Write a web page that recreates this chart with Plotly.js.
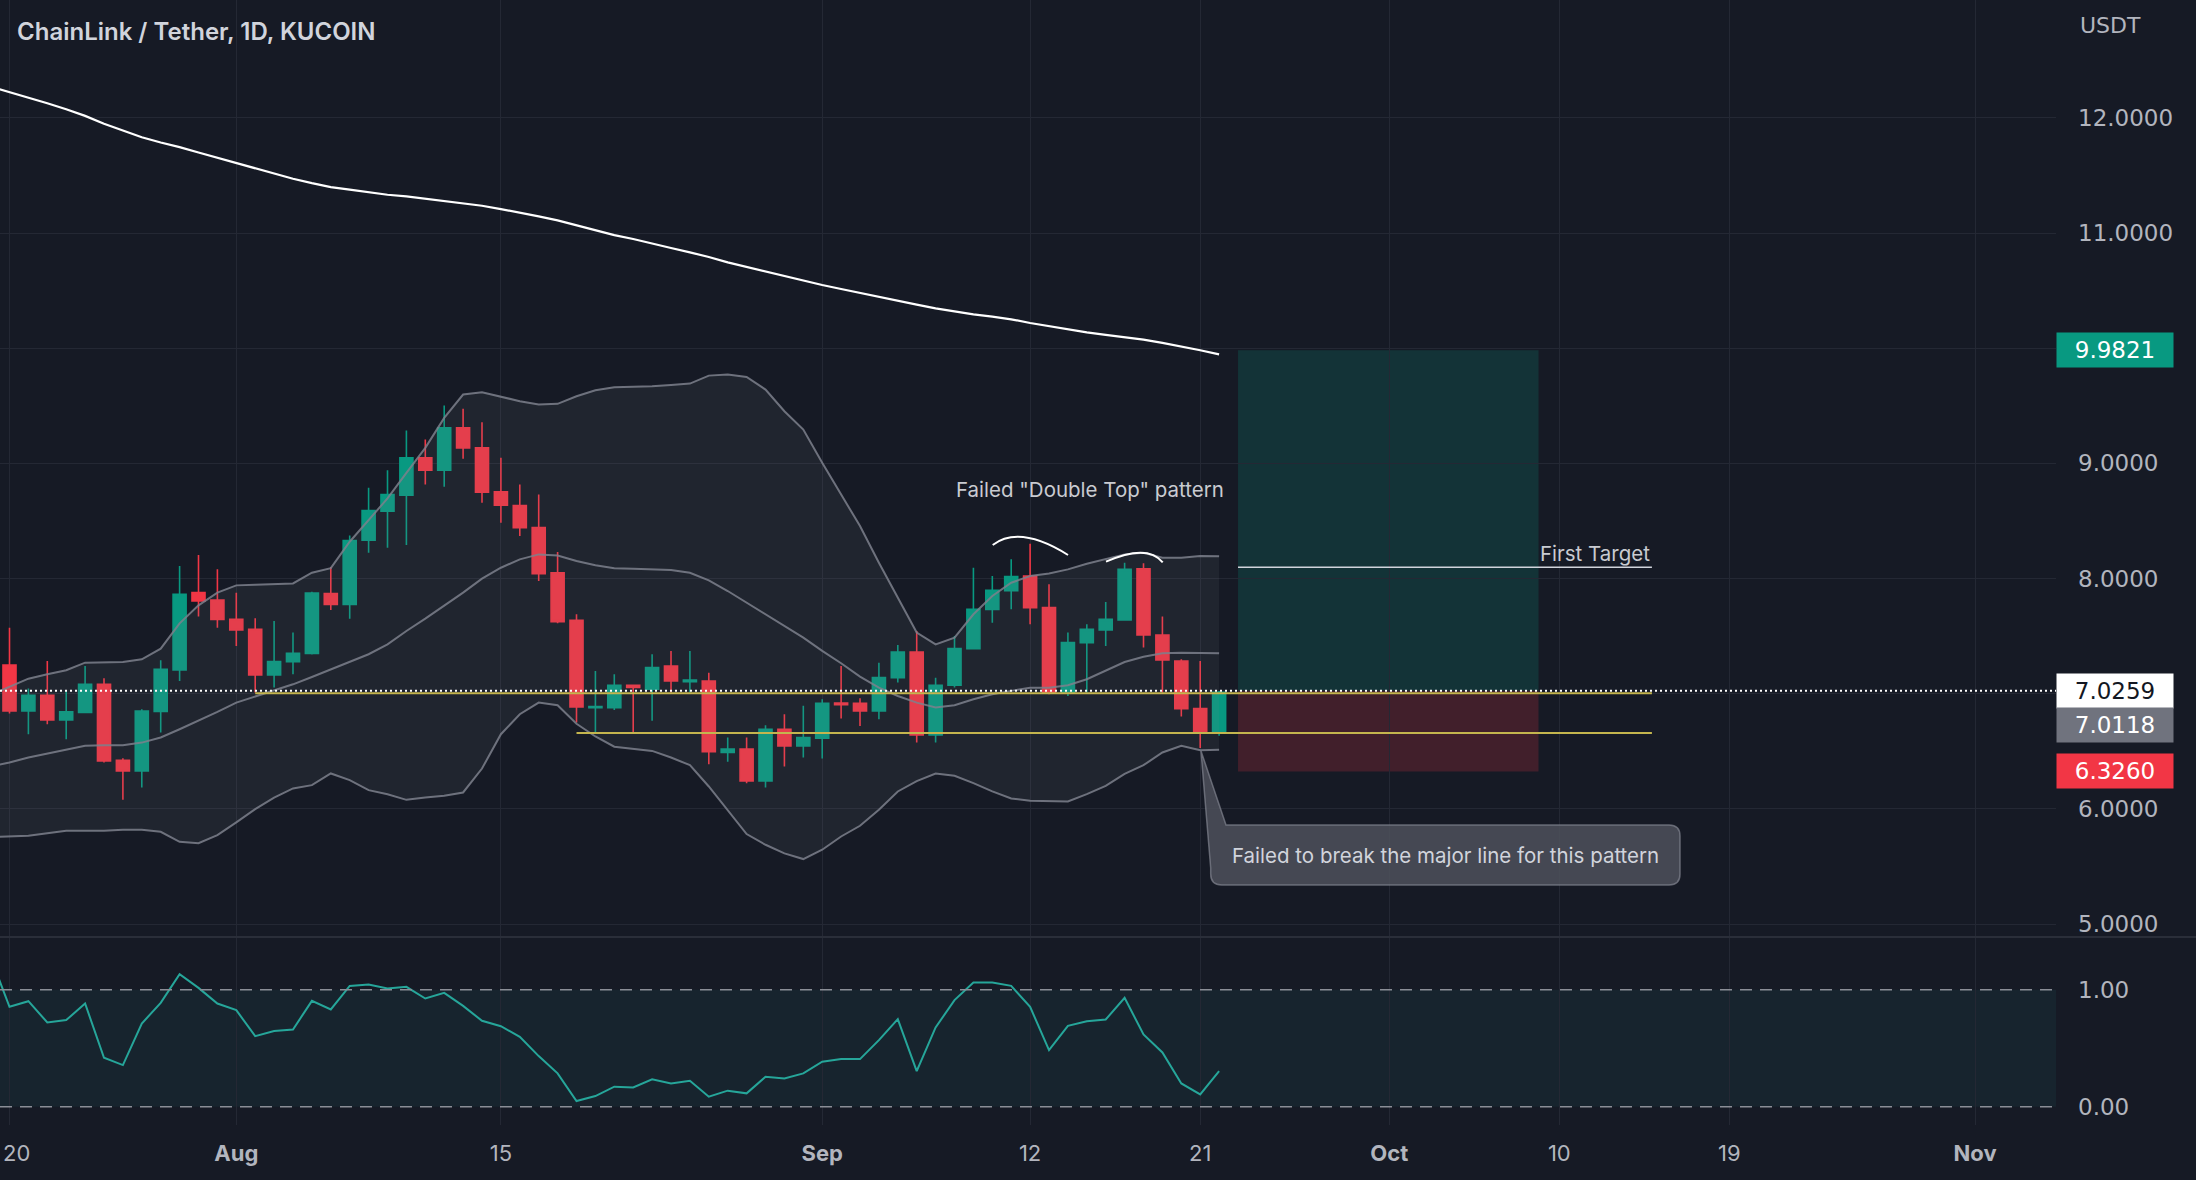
<!DOCTYPE html>
<html>
<head>
<meta charset="utf-8">
<script src="https://cdn.plot.ly/plotly-3.0.1.min.js"></script>
<style>
html,body{margin:0;padding:0;background:#161a25;}
#chart{width:2196px;height:1180px;}
</style>
</head>
<body>
<div id="chart"></div>
<script>
// ---------------- DATA ----------------
const dates = ['2022-07-20','2022-07-21','2022-07-22','2022-07-23','2022-07-24','2022-07-25','2022-07-26','2022-07-27','2022-07-28','2022-07-29','2022-07-30','2022-07-31',
'2022-08-01','2022-08-02','2022-08-03','2022-08-04','2022-08-05','2022-08-06','2022-08-07','2022-08-08','2022-08-09','2022-08-10','2022-08-11','2022-08-12','2022-08-13','2022-08-14','2022-08-15','2022-08-16','2022-08-17','2022-08-18','2022-08-19','2022-08-20','2022-08-21','2022-08-22','2022-08-23','2022-08-24','2022-08-25','2022-08-26','2022-08-27','2022-08-28','2022-08-29','2022-08-30','2022-08-31',
'2022-09-01','2022-09-02','2022-09-03','2022-09-04','2022-09-05','2022-09-06','2022-09-07','2022-09-08','2022-09-09','2022-09-10','2022-09-11','2022-09-12','2022-09-13','2022-09-14','2022-09-15','2022-09-16','2022-09-17','2022-09-18','2022-09-19','2022-09-20','2022-09-21','2022-09-22'];

const openP  = [7.250,6.851,6.987,6.773,6.837,7.082,6.423,6.330,6.846,7.207,7.878,7.814,7.646,7.559,7.163,7.279,7.351,7.870,7.776,8.334,8.586,8.724,9.048,8.941,9.309,9.135,8.754,8.635,8.444,8.051,7.638,6.880,6.880,7.074,7.039,7.241,7.105,7.111,6.490,6.519,6.244,6.692,6.548,6.614,6.920,6.918,6.851,7.140,7.363,6.643,7.074,7.392,7.733,7.895,8.022,7.748,7.010,7.444,7.554,7.640,8.085,7.510,7.285,6.871,6.663];
const highP  = [7.574,7.045,7.285,7.024,7.241,7.134,6.441,6.866,7.291,8.109,8.204,8.080,7.878,7.655,7.632,7.531,7.886,8.100,8.375,8.788,8.941,9.285,9.207,9.502,9.474,9.357,9.048,8.817,8.730,8.230,7.690,7.198,7.169,7.080,7.343,7.371,7.371,7.183,6.620,6.620,6.727,6.822,6.895,6.953,7.241,6.961,7.270,7.424,7.545,7.140,7.502,8.095,8.022,8.167,8.303,7.950,7.531,7.603,7.797,8.138,8.133,7.670,7.300,7.285,7.025];
const lowP   = [6.828,6.649,6.735,6.605,6.830,6.404,6.079,6.186,6.663,7.111,7.670,7.574,7.415,7.010,7.054,7.169,7.340,7.728,7.652,8.225,8.268,8.291,8.817,8.797,9.040,8.658,8.485,8.369,7.978,7.612,6.750,6.660,6.860,6.663,6.765,7.010,7.010,6.389,6.409,6.224,6.186,6.369,6.447,6.438,6.785,6.721,6.779,7.097,6.577,6.577,7.054,7.390,7.617,7.733,7.603,6.996,6.980,7.010,7.415,7.640,7.401,7.010,6.802,6.530,6.635];
const closeP = [6.851,6.987,6.773,6.843,7.082,6.417,6.330,6.851,7.212,7.863,7.806,7.646,7.554,7.163,7.279,7.351,7.875,7.776,8.331,8.591,8.730,9.048,8.941,9.309,9.135,8.750,8.637,8.441,8.042,7.626,6.886,6.890,7.074,7.054,7.227,7.111,7.120,6.496,6.519,6.244,6.692,6.548,6.620,6.918,6.906,6.851,7.140,7.363,6.643,7.074,7.392,7.733,7.898,8.017,7.748,7.010,7.444,7.559,7.646,8.080,7.510,7.293,6.871,6.663,7.0118];

// indicator / overlay lines start one day earlier (enter from the left edge)
const lineDates = ['2022-07-19'].concat(dates);
const bbUpper = [6.990,7.062,7.131,7.169,7.204,7.270,7.276,7.276,7.299,7.392,7.611,7.768,7.878,7.941,7.947,7.950,7.958,8.051,8.091,8.320,8.508,8.696,8.918,9.135,9.395,9.598,9.618,9.577,9.540,9.511,9.517,9.583,9.635,9.661,9.665,9.670,9.680,9.693,9.762,9.771,9.751,9.641,9.453,9.294,9.005,8.730,8.456,8.138,7.834,7.531,7.429,7.487,7.690,7.849,7.964,8.022,8.045,8.080,8.129,8.167,8.210,8.224,8.181,8.181,8.195,8.194];
const bbBasis = [6.370,6.403,6.446,6.481,6.513,6.548,6.553,6.553,6.576,6.620,6.692,6.764,6.843,6.923,6.976,7.025,7.082,7.146,7.212,7.276,7.343,7.429,7.545,7.652,7.762,7.878,7.999,8.094,8.167,8.210,8.201,8.152,8.115,8.089,8.086,8.080,8.074,8.051,7.984,7.892,7.791,7.690,7.588,7.487,7.372,7.265,7.149,7.053,6.981,6.923,6.880,6.900,6.952,6.996,7.025,7.053,7.053,7.074,7.126,7.198,7.276,7.322,7.351,7.357,7.357,7.351];
const bbLower = [5.755,5.761,5.767,5.790,5.810,5.810,5.810,5.819,5.819,5.802,5.715,5.703,5.773,5.883,5.998,6.099,6.178,6.207,6.308,6.250,6.163,6.128,6.079,6.099,6.114,6.143,6.351,6.649,6.822,6.923,6.900,6.740,6.629,6.540,6.519,6.504,6.447,6.380,6.195,5.990,5.782,5.689,5.614,5.565,5.646,5.761,5.854,5.993,6.152,6.241,6.308,6.288,6.224,6.152,6.091,6.071,6.065,6.065,6.129,6.201,6.305,6.380,6.490,6.548,6.510,6.513];
const ma200 = [12.270,12.222,12.179,12.127,12.075,12.017,11.948,11.887,11.832,11.786,11.746,11.699,11.653,11.607,11.558,11.514,11.471,11.433,11.399,11.376,11.352,11.332,11.318,11.297,11.280,11.260,11.237,11.208,11.179,11.144,11.110,11.066,11.026,10.982,10.948,10.907,10.870,10.832,10.792,10.745,10.705,10.664,10.624,10.589,10.549,10.514,10.479,10.445,10.413,10.378,10.346,10.317,10.294,10.274,10.251,10.219,10.190,10.161,10.138,10.115,10.098,10.075,10.046,10.017,9.982,9.947];
const pctB = [1.280,0.855,0.903,0.721,0.741,0.883,0.419,0.356,0.712,0.889,1.134,1.017,0.883,0.826,0.604,0.647,0.661,0.906,0.832,1.034,1.046,1.011,1.026,0.926,0.974,0.863,0.735,0.689,0.598,0.433,0.285,0.048,0.091,0.171,0.165,0.234,0.199,0.222,0.085,0.137,0.114,0.256,0.242,0.285,0.385,0.407,0.407,0.570,0.749,0.305,0.678,0.912,1.063,1.063,1.034,0.855,0.484,0.692,0.732,0.746,0.932,0.618,0.464,0.199,0.105,0.305];

const xTickVals = ['2022-07-20','2022-08-01','2022-08-15','2022-09-01','2022-09-12','2022-09-21','2022-10-01','2022-10-10','2022-10-19','2022-11-01'];
const xTickText = ['','<b>Aug</b>','15','<b>Sep</b>','12','21','<b>Oct</b>','10','19','<b>Nov</b>'];
const firstTickLabel = '20';   // drawn at the left edge so it stays fully visible
const priceTickVals = [5,6,7,8,9,10,11,12];
const priceTickText = ['5.0000','6.0000','','8.0000','9.0000','','11.0000','12.0000'];
const pctTickVals = [0,1];
const pctTickText = ['0.00','1.00'];

// trade setup (long position tool)
const entryPrice = 7.0259;
const targetPrice = 9.9821;
const stopPrice = 6.3260;
const lastClose = 7.0118;
const firstTarget = 8.098;
const supportUpper = 7.005;
const supportLower = 6.660;
const positionStart = '2022-09-23';
const positionEnd = '2022-10-08 21:36';
const linesEnd = '2022-10-14 21:36';
const supportUpperStart = '2022-08-02';
const supportLowerStart = '2022-08-19';

// ---------------- GEOMETRY HELPERS (pixel -> paper) ----------------
const PW = 2056, PH = 1125;
const px = x => (x / PW).toFixed(5);
const py = y => (1 - y / PH).toFixed(5);
const pt = (x, y) => px(x) + ',' + py(y);

const arc1 = 'M' + pt(992.7,545) + ' Q' + pt(1019.6,524.6) + ' ' + pt(1068,555);
const arc2 = 'M' + pt(1106,561.7) + ' Q' + pt(1147.2,543.4) + ' ' + pt(1162.7,562.3);
const bx0 = 1210.7, bx1 = 1680, by0 = 825, by1 = 885, r = 11;
const callout = 'M' + pt(1226,by0) + ' L' + pt(bx1 - r,by0) + ' Q' + pt(bx1,by0) + ' ' + pt(bx1,by0 + r) +
  ' L' + pt(bx1,by1 - r) + ' Q' + pt(bx1,by1) + ' ' + pt(bx1 - r,by1) +
  ' L' + pt(bx0 + r,by1) + ' Q' + pt(bx0,by1) + ' ' + pt(bx0,by1 - r) +
  ' L' + pt(bx0,868) + ' L' + pt(1201,751) + ' Z';

// ---------------- TRACES ----------------
const bandLine = {color: 'rgba(125,128,140,0.85)', width: 2};
const traces = [
  {type: 'scatter', mode: 'lines', x: lineDates, y: bbLower, line: bandLine, hoverinfo: 'skip', xaxis: 'x', yaxis: 'y'},
  {type: 'scatter', mode: 'lines', x: lineDates, y: bbUpper, line: bandLine, fill: 'tonexty', fillcolor: 'rgba(120,123,134,0.11)', hoverinfo: 'skip', xaxis: 'x', yaxis: 'y'},
  {type: 'scatter', mode: 'lines', x: lineDates, y: bbBasis, line: bandLine, hoverinfo: 'skip', xaxis: 'x', yaxis: 'y'},
  {type: 'scatter', mode: 'lines', x: lineDates, y: ma200, line: {color: '#ffffff', width: 2.2}, hoverinfo: 'skip', xaxis: 'x', yaxis: 'y'},
  {type: 'candlestick', x: dates, open: openP, high: highP, low: lowP, close: closeP,
    increasing: {line: {color: '#089981', width: 1.6}, fillcolor: '#089981'},
    decreasing: {line: {color: '#f23645', width: 1.6}, fillcolor: '#f23645'},
    whiskerwidth: 0, hoverinfo: 'skip', xaxis: 'x', yaxis: 'y'},
  {type: 'scatter', mode: 'lines', x: lineDates, y: pctB, line: {color: '#26a69a', width: 2}, hoverinfo: 'skip', xaxis: 'x', yaxis: 'y2'}
];

// ---------------- SHAPES ----------------
const shapes = [
  {type: 'rect', xref: 'paper', x0: 0, x1: 1, yref: 'y2', y0: 0, y1: 1, fillcolor: 'rgba(38,166,154,0.08)', line: {width: 0}, layer: 'below'},
  {type: 'line', xref: 'paper', x0: 0, x1: 1, yref: 'y2', y0: 1, y1: 1, line: {color: '#8a8d96', width: 1.5, dash: '12px,8px'}},
  {type: 'line', xref: 'paper', x0: 0, x1: 1, yref: 'y2', y0: 0, y1: 0, line: {color: '#8a8d96', width: 1.5, dash: '12px,8px'}},
  {type: 'rect', xref: 'x', x0: positionStart, x1: positionEnd, yref: 'y', y0: entryPrice, y1: targetPrice, fillcolor: 'rgba(8,153,129,0.2)', line: {width: 0}, layer: 'below'},
  {type: 'rect', xref: 'x', x0: positionStart, x1: positionEnd, yref: 'y', y0: stopPrice, y1: entryPrice, fillcolor: 'rgba(242,54,69,0.2)', line: {width: 0}, layer: 'below'},
  {type: 'line', xref: 'x', x0: positionStart, x1: linesEnd, yref: 'y', y0: firstTarget, y1: firstTarget, line: {color: '#d1d4dc', width: 1.6}},
  {type: 'line', xref: 'x', x0: supportUpperStart, x1: linesEnd, yref: 'y', y0: supportUpper, y1: supportUpper, line: {color: '#c4b54e', width: 2}},
  {type: 'line', xref: 'x', x0: supportLowerStart, x1: linesEnd, yref: 'y', y0: supportLower, y1: supportLower, line: {color: '#c4b54e', width: 2}},
  {type: 'line', xref: 'paper', x0: 0, x1: 1, yref: 'y', y0: entryPrice, y1: entryPrice, line: {color: '#ffffff', width: 2, dash: '2px,3px'}},
  {type: 'path', xref: 'paper', yref: 'paper', path: arc1, line: {color: '#ffffff', width: 2}},
  {type: 'path', xref: 'paper', yref: 'paper', path: arc2, line: {color: '#ffffff', width: 2}},
  {type: 'path', xref: 'paper', yref: 'paper', path: callout, fillcolor: 'rgba(78,81,92,0.85)', line: {color: 'rgba(130,133,144,0.7)', width: 1.5}},
  {type: 'line', xref: 'paper', x0: 0, x1: 2196 / PW, yref: 'paper', y0: 1 - 937 / PH, y1: 1 - 937 / PH, line: {color: '#2a2e39', width: 2}}
];

// ---------------- ANNOTATIONS ----------------
const axisFont = '"DejaVu Sans", Inter, sans-serif';
const priceLabel = (yv, txt, bg, fg) => ({xref: 'paper', x: 1, xanchor: 'left', yref: 'y', y: yv, yanchor: 'middle',
  text: txt, showarrow: false, bgcolor: bg, width: 116, height: 34, borderpad: 0, align: 'center',
  font: {family: axisFont, size: 23, color: fg}});

const annotations = [
  {xref: 'paper', x: 1090 / PW, yref: 'paper', y: 1 - 489 / PH, text: 'Failed "Double Top" pattern', showarrow: false,
    xanchor: 'center', yanchor: 'middle', font: {size: 20.5, color: '#c9cbd1'}},
  {xref: 'x', x: linesEnd, yref: 'y', y: firstTarget, text: 'First Target', showarrow: false, xanchor: 'right', yanchor: 'bottom', yshift: -1,
    font: {size: 20.5, color: '#c9cbd1'}},
  {xref: 'paper', x: 1445 / PW, yref: 'paper', y: 1 - 855 / PH, text: 'Failed to break the major line for this pattern', showarrow: false,
    xanchor: 'center', yanchor: 'middle', font: {size: 20.5, color: '#d1d4dc'}},
  priceLabel(targetPrice, targetPrice.toFixed(4), '#089981', '#ffffff'),
  priceLabel(entryPrice, entryPrice.toFixed(4), '#ffffff', '#131722'),
  priceLabel(6.727, lastClose.toFixed(4), '#70737e', '#ffffff'),
  priceLabel(stopPrice, stopPrice.toFixed(4), '#f23645', '#ffffff'),
  {xref: 'paper', x: 2078 / PW, xanchor: 'left', yref: 'paper', y: 1 - 26 / PH, yanchor: 'middle', text: 'USDT', showarrow: false,
    font: {family: axisFont, size: 22, color: '#b2b5be'}},
  {xref: 'paper', x: 0, xanchor: 'left', xshift: 1, yref: 'paper', y: 1 - 1153 / PH, yanchor: 'middle', text: firstTickLabel, showarrow: false,
    font: {size: 22, color: '#b2b5be'}}
];

// ---------------- LAYOUT ----------------
const layout = {
  width: 2196, height: 1180,
  paper_bgcolor: '#161a25', plot_bgcolor: '#161a25',
  margin: {l: 0, r: 140, t: 0, b: 55, pad: 0},
  showlegend: false,
  font: {family: 'Inter, "Noto Sans", sans-serif', size: 22, color: '#b2b5be'},
  title: {text: 'ChainLink / Tether, 1D, KUCOIN', xref: 'container', x: 17 / 2196, xanchor: 'left',
    yref: 'container', y: 1 - 32 / 1180, yanchor: 'middle', font: {size: 24, weight: 600, color: '#d1d4dc'}},
  boxgap: 0.31, boxgroupgap: 0,
  xaxis: {type: 'date', range: ['2022-07-19 11:56', '2022-11-05 06:43'], anchor: 'y2',
    tickmode: 'array', tickvals: xTickVals, ticktext: xTickText,
    showgrid: true, gridcolor: '#242834', gridwidth: 1, zeroline: false, showline: false, ticks: '',
    ticklabelstandoff: 13, tickfont: {size: 22, color: '#b2b5be'},
    rangeslider: {visible: false}, fixedrange: true},
  yaxis: {domain: [1 - 936 / PH, 1], range: [4.897, 13.023], side: 'right', anchor: 'x',
    tickmode: 'array', tickvals: priceTickVals, ticktext: priceTickText,
    showgrid: true, gridcolor: '#242834', gridwidth: 1, zeroline: false, showline: false, ticks: '',
    ticklabelstandoff: 21, tickfont: {family: axisFont, size: 23, color: '#b2b5be'}, fixedrange: true},
  yaxis2: {domain: [0, 1 - 938 / PH], range: [-0.157, 1.444], side: 'right', anchor: 'x',
    tickmode: 'array', tickvals: pctTickVals, ticktext: pctTickText,
    showgrid: false, zeroline: false, showline: false, ticks: '',
    ticklabelstandoff: 21, tickfont: {family: axisFont, size: 23, color: '#b2b5be'}, fixedrange: true},
  shapes: shapes,
  annotations: annotations
};

Plotly.newPlot('chart', traces, layout, {displayModeBar: false, staticPlot: true});
</script>
</body>
</html>
